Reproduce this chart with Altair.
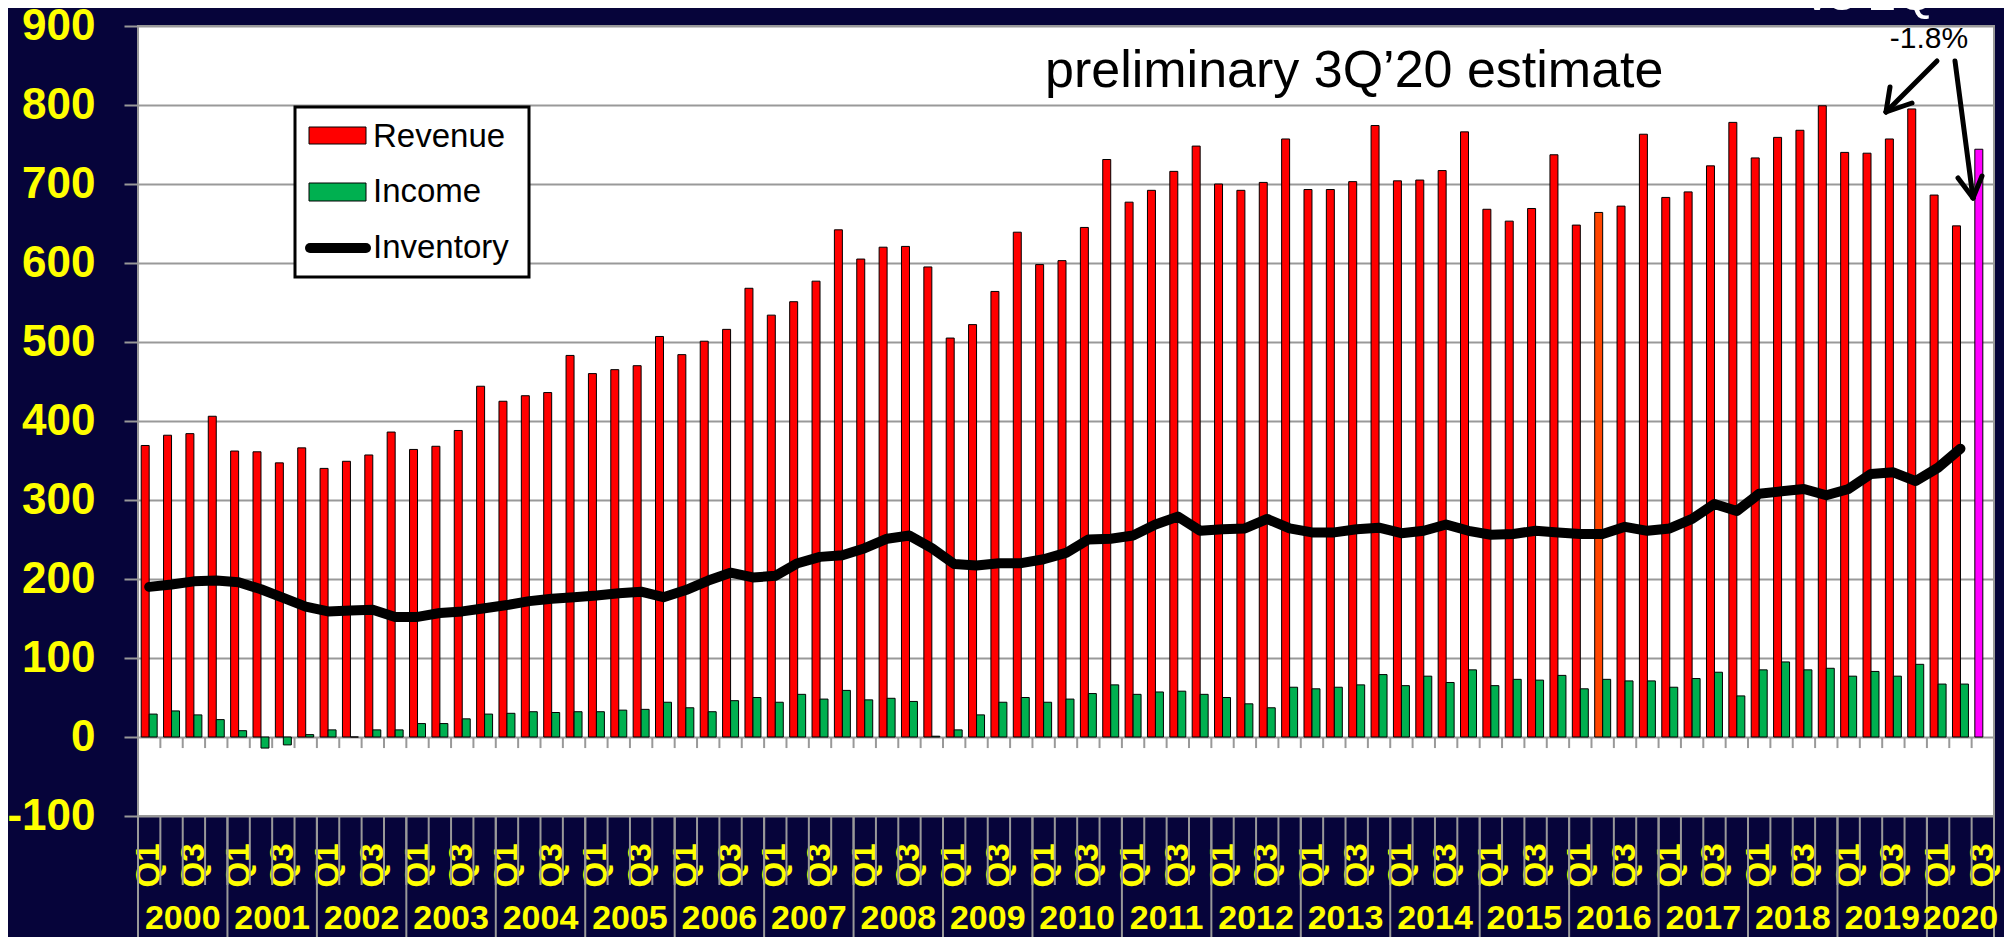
import altair as alt
import pandas as pd

# ---------------- data ----------------
years = list(range(2000, 2021))
quarter_names = ["Q1", "Q2", "Q3", "Q4"]
keys = [f"{y} {q}" for y in years for q in quarter_names][:83]

revenue = [369, 382, 384, 406, 362, 361, 347, 366, 340, 349,
           357, 386, 364, 368, 388, 444, 425, 432, 436, 483,
           460, 465, 470, 507, 484, 501, 516, 568, 534, 551,
           577, 642, 605, 620, 621, 595, 505, 522, 564, 639,
           598, 603, 645, 731, 677, 692, 716, 748, 700, 692,
           702, 757, 693, 693, 703, 774, 704, 705, 717, 766,
           668, 653, 669, 737, 648, 664, 672, 763, 683, 690,
           723, 778, 733, 759, 768, 799, 740, 739, 757, 795,
           686, 647, 744]

income = [29, 33, 28, 22, 8, -14, -10, 3, 9, 0,
          9, 9, 17, 17, 23, 29, 30, 32, 31, 32,
          32, 34, 35, 44, 37, 32, 46, 50, 44, 54,
          48, 59, 47, 49, 45, 1, 9, 28, 44, 50,
          44, 48, 55, 66, 54, 57, 58, 54, 50, 42,
          37, 63, 61, 63, 66, 79, 65, 77, 69, 85,
          65, 73, 72, 78, 61, 73, 71, 71, 63, 74,
          82, 52, 85, 95, 85, 87, 77, 83, 77, 92,
          67, 67, None]

inventory = [190, 193, 197, 198, 196, 187, 176, 165, 159, 160,
             161, 152, 152, 157, 159, 163, 167, 172, 175, 177,
             179, 182, 184, 177, 186, 198, 208, 202, 204, 220,
             228, 230, 239, 251, 255, 239, 219, 217, 220, 220,
             225, 233, 250, 251, 255, 269, 279, 261, 263, 264,
             276, 264, 259, 259, 263, 265, 258, 261, 269, 261,
             256, 257, 261, 259, 257, 257, 266, 261, 264, 276,
             295, 286, 308, 311, 314, 306, 314, 333, 335, 324,
             341, 365, None]

y_ticks = [-100, 0, 100, 200, 300, 400, 500, 600, 700, 800, 900]

# ---------------- tables ----------------
bars_df = pd.DataFrame({
    "key": keys * 2,
    "series": ["Revenue"] * len(keys) + ["Income"] * len(keys),
    "value": revenue + income,
}).dropna()
inv_df = pd.DataFrame({"key": keys, "value": inventory}).dropna()
key_df = pd.DataFrame({"key": keys})
q1_df = pd.DataFrame({"key": [k for k in keys if k.endswith("Q1")]})
last_df = pd.DataFrame({"key": [keys[-1]]})
full_years = [y for y in years if f"{y} Q4" in keys]
year_df = pd.DataFrame({"year": [str(y) for y in full_years],
                        "key": [f"{y} Q3" for y in full_years]})
part_df = pd.DataFrame({"year": [str(years[-1])], "key": [f"{years[-1]} Q2"]})
one = pd.DataFrame({"n": [0]})

# ---------------- styles ----------------
NAVY = "#06043A"
YELLOW = "#FFFF00"
GRID = "#999999"
FONT = "Liberation Sans"

xscale = alt.Scale(type="band", domain=keys, paddingInner=0, paddingOuter=0)
xaxis = alt.Axis(
    title=None, domain=False, ticks=False, grid=False,
    labelExpr="(slice(datum.value, 5) == 'Q1' || slice(datum.value, 5) == 'Q3') ? slice(datum.value, 5) : ''",
    labelAngle=270, labelAlign="right", labelBaseline="middle",
    labelPadding=27, labelColor=YELLOW, labelFont=FONT, labelFontSize=33,
    labelFontWeight="bold", labelOverlap=False,
)
yscale = alt.Scale(domain=[-100, 900], nice=False, zero=False)
yaxis = alt.Axis(
    title=None, values=y_ticks, domain=False,
    tickColor=GRID, tickSize=14, tickWidth=2,
    labelExpr="'' + datum.value",
    labelColor=YELLOW, labelFont=FONT, labelFontSize=44, labelFontWeight="bold",
    labelPadding=29, grid=True, gridColor=GRID, gridWidth=2,
)


def X(band=None):
    if band is None:
        return alt.X("key:N", scale=xscale, axis=xaxis, sort=keys)
    return alt.X("key:N", scale=xscale, axis=xaxis, sort=keys, bandPosition=band)


def Y():
    return alt.Y("value:Q", scale=yscale, axis=yaxis, stack=None)


bars = alt.Chart(bars_df).transform_calculate(
    fillcat="datum.series == 'Income' ? 'Income' : (datum.key == '2020 Q3' ? 'Estimate' : (datum.key == '2016 Q2' ? 'Revenue2' : 'Revenue'))"
).mark_bar(stroke="#000000", strokeWidth=1).encode(
    x=X(),
    xOffset=alt.XOffset("series:N", scale=alt.Scale(domain=["Revenue", "Income"], paddingInner=0, paddingOuter=0.4)),
    y=Y(),
    color=alt.Color("fillcat:N",
                    scale=alt.Scale(domain=["Revenue", "Revenue2", "Estimate", "Income"],
                                    range=["#FF0000", "#FF4500", "#FF00FF", "#00B050"]),
                    legend=None),
)

line = alt.Chart(inv_df).mark_line(
    color="black", strokeWidth=10, strokeCap="round", strokeJoin="round"
).encode(x=X(), y=Y())

zero_ticks = alt.Chart(key_df).mark_rule(color=GRID, strokeWidth=2).encode(
    x=X(0),
    y=alt.Y(datum=0, scale=yscale, axis=yaxis),
    y2=alt.Y2(datum=-14),
)

cat_ticks = alt.Chart(key_df).mark_rule(color=GRID, strokeWidth=2).encode(
    x=X(0), y=alt.value(790), y2=alt.value(859)
)
year_rules = alt.Chart(q1_df).mark_rule(color=GRID, strokeWidth=2).encode(
    x=X(0), y=alt.value(790), y2=alt.value(935)
)
end_rule = alt.Chart(last_df).mark_rule(color=GRID, strokeWidth=2).encode(
    x=X(1), y=alt.value(790), y2=alt.value(935)
)

year_style = dict(color=YELLOW, font=FONT, fontSize=34, fontWeight="bold",
                  align="center", baseline="alphabetic")
year_txt = alt.Chart(year_df).mark_text(**year_style).encode(
    x=X(0), y=alt.value(903), text="year:N")
part_txt = alt.Chart(part_df).mark_text(**year_style).encode(
    x=X(0.5), y=alt.value(903), text="year:N")

# legend
leg_box = alt.Chart(one).mark_rect(fill="white", stroke="black", strokeWidth=3).encode(
    x=alt.value(157), x2=alt.value(391), y=alt.value(81), y2=alt.value(251))
leg_red = alt.Chart(one).mark_rect(fill="#FF0000", stroke="#000000", strokeWidth=1).encode(
    x=alt.value(171), x2=alt.value(228), y=alt.value(101), y2=alt.value(118))
leg_green = alt.Chart(one).mark_rect(fill="#00B050", stroke="#000000", strokeWidth=1).encode(
    x=alt.value(171), x2=alt.value(228), y=alt.value(157), y2=alt.value(175))
leg_line = alt.Chart(one).mark_rule(color="black", strokeWidth=10, strokeCap="round").encode(
    x=alt.value(172), x2=alt.value(228), y=alt.value(222), y2=alt.value(222))
leg_style = dict(font=FONT, fontSize=33, color="black", align="left", baseline="alphabetic")
leg_t1 = alt.Chart(one).mark_text(text="Revenue", **leg_style).encode(x=alt.value(235), y=alt.value(121))
leg_t2 = alt.Chart(one).mark_text(text="Income", **leg_style).encode(x=alt.value(235), y=alt.value(176))
leg_t3 = alt.Chart(one).mark_text(text="Inventory", **leg_style).encode(x=alt.value(235), y=alt.value(232))

# annotations
ann1 = alt.Chart(one).mark_text(text="preliminary 3Q\u201920 estimate", font=FONT, fontSize=52,
                                color="black", align="left", baseline="alphabetic").encode(
    x=alt.value(907), y=alt.value(61))
ann2 = alt.Chart(one).mark_text(text="-1.8%", font=FONT, fontSize=30, color="black",
                                align="center", baseline="alphabetic").encode(
    x=alt.value(1791), y=alt.value(22))
ann3 = alt.Chart(one).mark_text(text="vs 2Q", font=FONT, fontSize=50, color="white",
                                align="center", baseline="alphabetic").encode(
    x=alt.value(1732), y=alt.value(-16))


def seg(x1, y1, x2, y2):
    return alt.Chart(one).mark_rule(color="black", strokeWidth=5, strokeCap="round").encode(
        x=alt.value(x1), y=alt.value(y1), x2=alt.value(x2), y2=alt.value(y2))


arrows = [
    seg(1799, 35, 1748, 86), seg(1748, 86, 1752, 61), seg(1748, 86, 1774, 77),
    seg(1817, 35, 1835, 172), seg(1835, 172, 1820, 152), seg(1835, 172, 1844, 150),
]

chart = alt.layer(
    bars, line, zero_ticks, cat_ticks, year_rules, end_rule, year_txt, part_txt,
    leg_box, leg_red, leg_green, leg_line, leg_t1, leg_t2, leg_t3,
    ann1, ann2, ann3, *arrows,
).properties(
    width=1856, height=790,
    padding={"left": 130, "top": 18, "right": 10, "bottom": 121},
    autosize=alt.AutoSizeParams(type="none"),
    background=NAVY,
).configure_view(
    fill="white", stroke=GRID, strokeWidth=2
)

chart.save("out.html", embed_options={"renderer": "svg", "actions": False})
